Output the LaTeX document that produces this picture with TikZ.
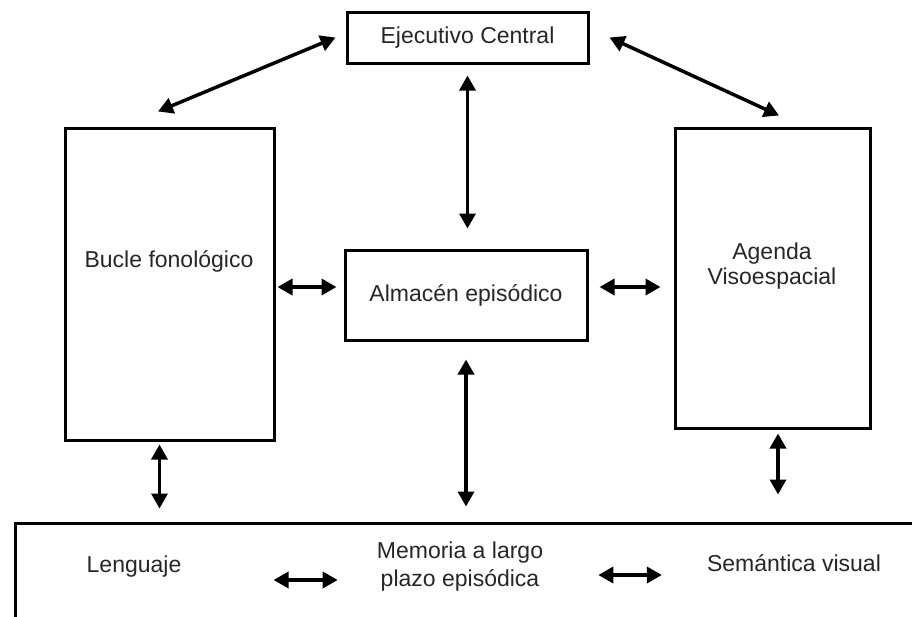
\documentclass[tikz,border=0pt]{standalone}
\usepackage{fontspec}
\setmainfont{Liberation Sans}
\usetikzlibrary{arrows.meta,calc}
\begin{document}
\begin{tikzpicture}[x=1pt,y=-1pt,
    font=\fontsize{23}{28}\selectfont,
    caja/.style={draw,line width=3pt,inner sep=0pt,text=black!85},
    texto/.style={text=black!85,align=center,inner sep=0pt},
    flecha/.style={line width=3.5pt,{Triangle[length=15pt,width=16pt]}-{Triangle[length=15pt,width=16pt]}}]
  \useasboundingbox (0,0) rectangle (912,616);

  % cajas
  \node[caja,minimum width=241,minimum height=51] (ec) at (467.5,37.5) {Ejecutivo Central};
  \node[caja,minimum width=209,minimum height=312] (bucle) at (169.5,284) {};
  \node[caja,minimum width=195,minimum height=300] (agenda) at (772.5,278) {};
  \node[caja,minimum width=242,minimum height=90] (alm) at (466,295) {Almacén episódico};
  \begin{scope}
    \clip (0,0) rectangle (912,616);
    \node[caja,minimum width=940,minimum height=130] (mem) at (485,588) {};
  \end{scope}

  % textos
  \node[texto] (tbucle) at (169,261) {Bucle fonológico};
  \node[texto] (tagenda) at (772,266) {Agenda\\[-3pt]Visoespacial};
  \node[texto] (leng) at (134,567) {Lenguaje};
  \node[texto] (tmem) at (460,567) {Memoria a largo\\plazo episódica};
  \node[texto] (sem) at (794,563) {Semántica visual};

  % flechas
  \draw[flecha] ([xshift=-10pt]ec.west) -- ([xshift=-11.5pt,yshift=15pt]bucle.north);
  \draw[flecha] ([xshift=20pt]ec.east) -- ([xshift=6.5pt,yshift=11pt]agenda.north);
  \draw[flecha,shorten <=11pt,shorten >=20pt] (ec.south) -- (ec.south |- alm.north);
  \draw[flecha,shorten <=2pt,shorten >=7pt] ([yshift=-3pt]bucle.east) -- ([yshift=-3pt]bucle.east -| alm.west);
  \draw[flecha,shorten <=11pt,shorten >=13pt] ([yshift=8pt]alm.east) -- ([yshift=8pt]alm.east -| agenda.west);
  \draw[flecha,shorten <=18pt,shorten >=15pt] (alm.south) -- (alm.south |- mem.north);
  \draw[flecha,shorten <=3pt,shorten >=13pt] ([xshift=-10pt]bucle.south) -- ([xshift=-10pt]bucle.south |- mem.north);
  \draw[flecha,shorten <=4pt,shorten >=27pt] ([xshift=5.5pt]agenda.south) -- ([xshift=5.5pt]agenda.south |- mem.north);
  \draw[flecha,shorten <=92pt,shorten >=39pt] ([yshift=-13pt]leng.east) -- ([yshift=-13pt]leng.east -| tmem.west);
  \draw[flecha,shorten <=55pt,shorten >=45pt] ([yshift=-8pt]tmem.east) -- ([yshift=-8pt]tmem.east -| sem.west);
\end{tikzpicture}
\end{document}
